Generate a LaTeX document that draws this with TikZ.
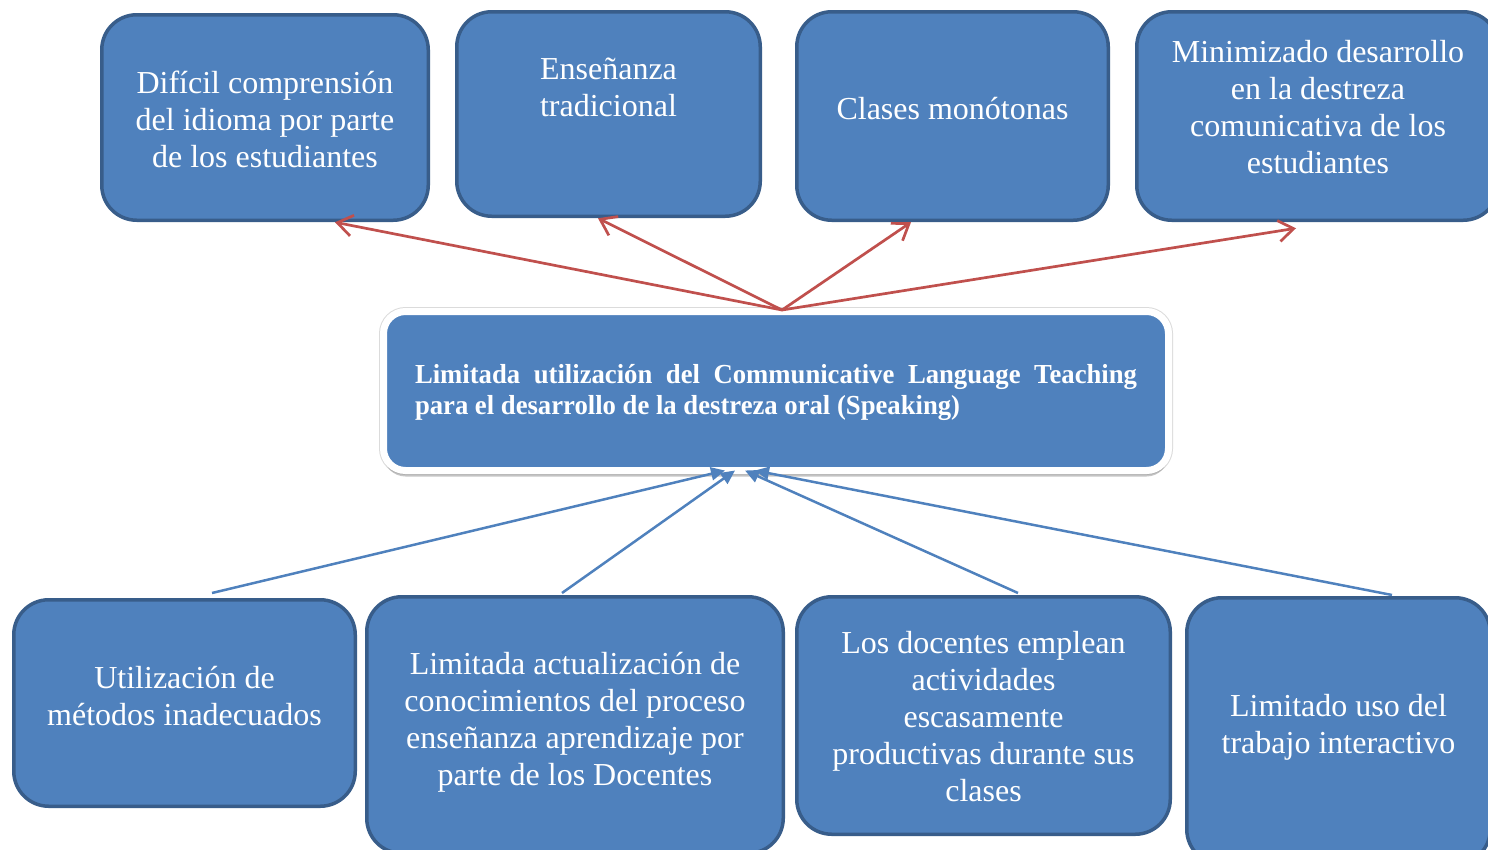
\documentclass[tikz,border=0pt]{standalone}
\usepackage{fontspec}
\setmainfont{Liberation Serif}
\newfontfamily\condserif[FakeStretch=0.97]{Liberation Serif}
\usetikzlibrary{arrows.meta,shadows}
\definecolor{boxblue}{RGB}{79,129,189}
\definecolor{boxedge}{RGB}{56,93,138}
\definecolor{arrred}{RGB}{192,80,77}
\begin{document}
\begin{tikzpicture}[x=1pt,y=-1pt,
  box/.style={draw=boxedge, fill=boxblue, line width=3.5pt, rounded corners=35pt, inner sep=0pt, outer sep=0pt},
  boxtext/.style={text=white, font=\fontsize{32}{37}\selectfont, align=center, inner sep=0pt},
  cbox/.style={fill=boxblue, inner sep=0pt, outer sep=0pt, rounded corners=22pt,
    preaction={draw=black!14, line width=9pt},
    draw=white, line width=7pt,
    drop shadow={shadow xshift=0pt, shadow yshift=-6pt, opacity=0.45}},
  ctext/.style={text=white, font=\condserif\bfseries\fontsize{27.5}{31}\selectfont, align=justify, text width=722pt, inner sep=0pt},
  redarrow/.style={draw=arrred, line width=2.7pt, -{Straight Barb[length=15pt,width=21pt]}},
  bluearrow/.style={draw=boxblue, line width=2.5pt, -{Triangle[length=14pt,width=13pt]}}
]
\useasboundingbox (0,0) rectangle (1488,849);

% top boxes
\node[box, minimum width=326.5pt, minimum height=205.5pt] (t1) at (265,117.5) {};
\node[box, minimum width=303.5pt, minimum height=204.5pt] (t2) at (608.5,114) {};
\node[box, minimum width=311.5pt, minimum height=208.5pt] (t3) at (952.5,116) {};
\node[box, minimum width=361.5pt, minimum height=208.5pt] (t4) at (1317.5,116) {};

\node[boxtext] (tt1) at (265,119.5) {Difícil comprensión\\del idioma por parte\\de los estudiantes};
\node[boxtext] (tt2) at (608.5,87.5) {Enseñanza\\tradicional};
\node[boxtext] (tt3) at (952.5,109) {Clases monótonas};
\node[boxtext] (tt4) at (1318,107.5) {Minimizado desarrollo\\en la destreza\\comunicativa de los\\estudiantes};

% center box
\node[cbox, minimum width=785pt, minimum height=159pt] (c) at (776,391) {};
\node[ctext] (ct) at (776,392.5) {Limitada utilización del Communicative Language Teaching\break para el desarrollo de la destreza oral (Speaking)};

% bottom boxes
\node[box, minimum width=341.5pt, minimum height=206.5pt] (b1) at (184.5,703) {};
\node[box, minimum width=416.5pt, minimum height=256.5pt] (b2) at (575,725) {};
\node[box, minimum width=373.5pt, minimum height=237.5pt] (b3) at (983.5,715.5) {};
\node[box, minimum width=303.5pt, minimum height=266.5pt] (b4) at (1338.5,731) {};

\node[boxtext] (bt1) at (184.5,696.5) {Utilización de\\métodos inadecuados};
\node[boxtext] (bt2) at (575,722) {Limitada actualización de\\conocimientos del proceso\\enseñanza aprendizaje por\\parte de los Docentes};
\node[boxtext] (bt3) at (983.5,716.5) {Los docentes emplean\\actividades\\escasamente\\productivas durante sus\\clases};
\node[boxtext] (bt4) at (1338.5,727) {Limitado uso del\\trabajo interactivo};

% red arrows (effects)
\coordinate (ctop) at ([xshift=6pt,yshift=1.5pt]c.north);
\draw[redarrow] (ctop) -- ([xshift=70pt,yshift=-2pt]t1.south);
\draw[redarrow] (ctop) -- ([xshift=-10.5pt,yshift=-2pt]t2.south);
\draw[redarrow] (ctop) -- ([xshift=-41.5pt,yshift=-2pt]t3.south);
\draw[redarrow] (ctop) -- ([xshift=-21.5pt,yshift=-8pt]t4.south);

% blue arrows (causes)
\draw[bluearrow] ([xshift=27.5pt,yshift=6.75pt]b1.north) -- ([xshift=-51pt,yshift=0pt]c.south);
\draw[bluearrow] ([xshift=-13pt,yshift=3.75pt]b2.north) -- ([xshift=-41pt,yshift=0pt]c.south);
\draw[bluearrow] ([xshift=34.5pt,yshift=3.75pt]b3.north) -- ([xshift=-31pt,yshift=0pt]c.south);
\draw[bluearrow] ([xshift=53.5pt,yshift=2.75pt]b4.north) -- ([xshift=-21pt,yshift=0pt]c.south);
\end{tikzpicture}
\end{document}
